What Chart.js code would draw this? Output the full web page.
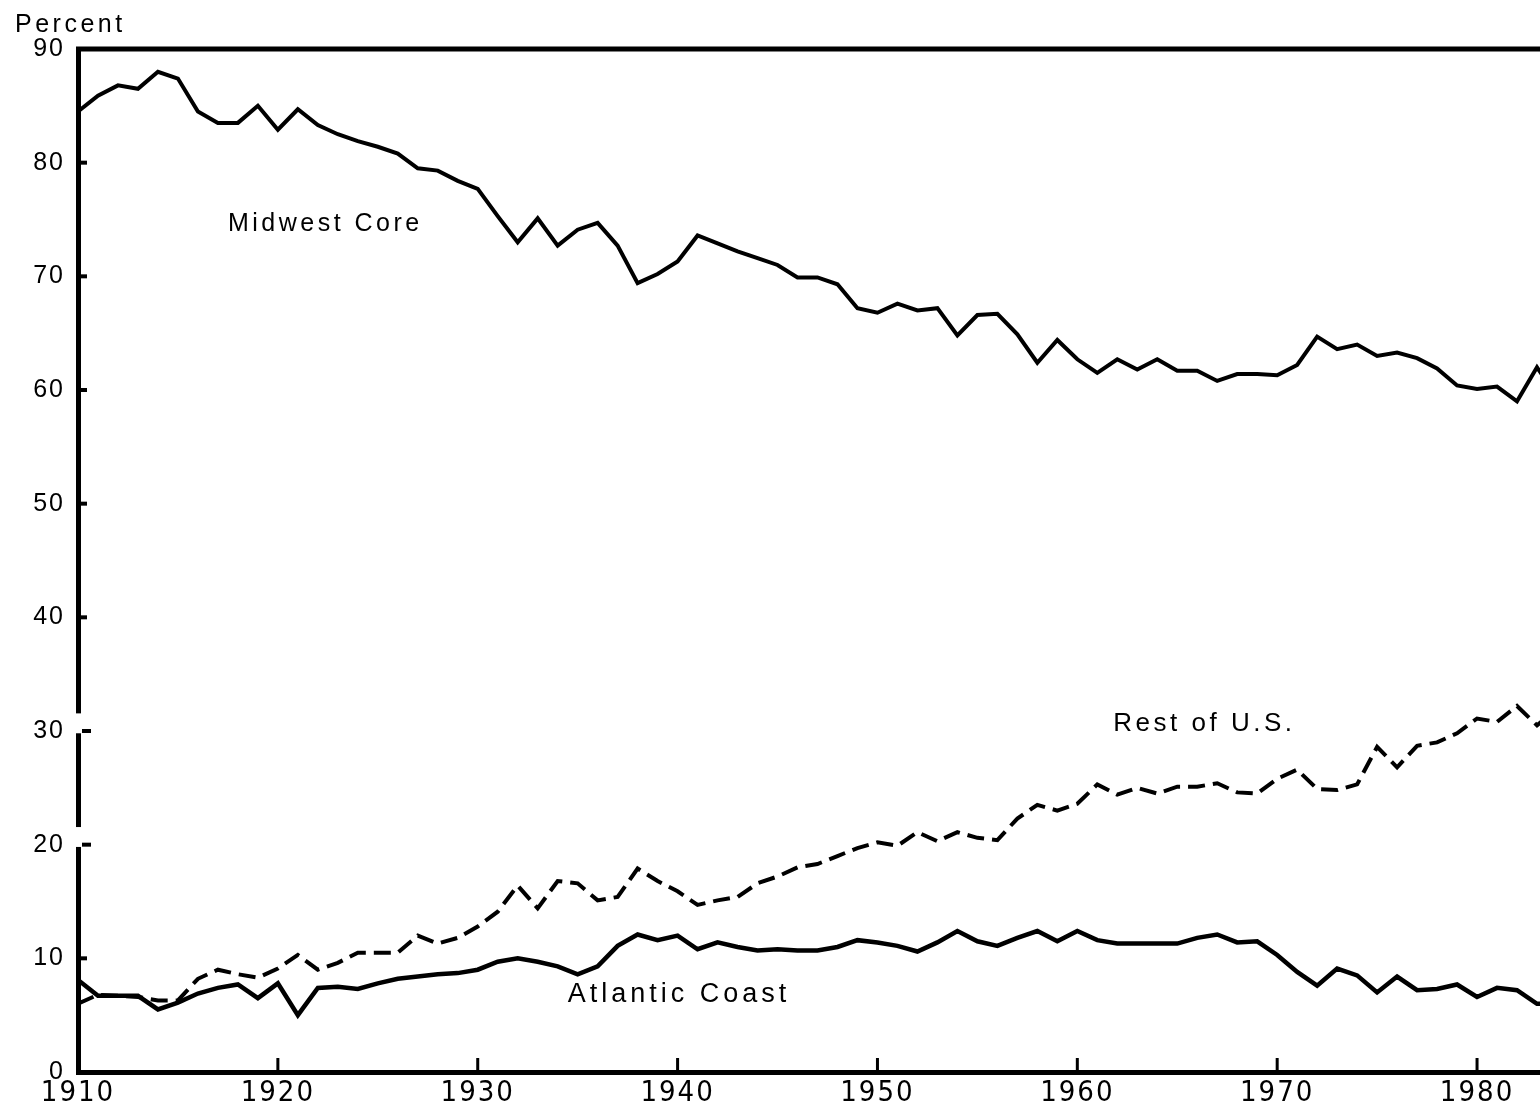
<!DOCTYPE html>
<html>
<head>
<meta charset="utf-8">
<script src="https://cdn.jsdelivr.net/npm/chart.js@4.4.1/dist/chart.umd.min.js"></script>
<style>
  html, body { margin: 0; padding: 0; background: #fff; }
  #wrap { width: 1540px; height: 1107px; position: relative; }
</style>
</head>
<body>
<div id="wrap"><canvas id="lineChart"></canvas></div>
<script>
// values, one per year 1910-1984 (1984 sits just past the cropped edge)
const years = [
  1910, 1911, 1912, 1913, 1914, 1915, 1916, 1917, 1918, 1919,
  1920, 1921, 1922, 1923, 1924, 1925, 1926, 1927, 1928, 1929,
  1930, 1931, 1932, 1933, 1934, 1935, 1936, 1937, 1938, 1939,
  1940, 1941, 1942, 1943, 1944, 1945, 1946, 1947, 1948, 1949,
  1950, 1951, 1952, 1953, 1954, 1955, 1956, 1957, 1958, 1959,
  1960, 1961, 1962, 1963, 1964, 1965, 1966, 1967, 1968, 1969,
  1970, 1971, 1972, 1973, 1974, 1975, 1976, 1977, 1978, 1979,
  1980, 1981, 1982, 1983, 1984
];
const midwestCore = [
  84.5, 85.9, 86.8, 86.5, 88.0, 87.4, 84.5, 83.5, 83.5, 85.0,
  82.9, 84.7, 83.3, 82.5, 81.9, 81.4, 80.8, 79.5, 79.3, 78.4,
  77.7, 75.3, 73.0, 75.1, 72.7, 74.1, 74.7, 72.7, 69.4, 70.2,
  71.3, 73.6, 72.9, 72.2, 71.6, 71.0, 69.9, 69.9, 69.3, 67.2,
  66.8, 67.6, 67.0, 67.2, 64.8, 66.6, 66.7, 64.9, 62.4, 64.4,
  62.7, 61.5, 62.7, 61.8, 62.7, 61.7, 61.7, 60.8, 61.4, 61.4,
  61.3, 62.2, 64.7, 63.6, 64.0, 63.0, 63.3, 62.8, 61.9, 60.4,
  60.1, 60.3, 59.0, 62.0, 59.4
];
const restOfUS = [
  6.0, 6.8, 6.7, 6.6, 6.3, 6.3, 8.2, 9.0, 8.6, 8.3,
  9.1, 10.3, 9.0, 9.6, 10.5, 10.5, 10.5, 12.0, 11.3, 11.8,
  12.8, 14.1, 16.4, 14.4, 16.8, 16.6, 15.1, 15.4, 17.9, 16.8,
  15.9, 14.7, 15.1, 15.4, 16.6, 17.2, 18.0, 18.3, 19.0, 19.7,
  20.2, 19.9, 21.1, 20.3, 21.1, 20.6, 20.4, 22.3, 23.5, 23.0,
  23.6, 25.3, 24.4, 25.0, 24.5, 25.1, 25.1, 25.4, 24.6, 24.5,
  25.8, 26.6, 24.9, 24.8, 25.3, 28.6, 26.8, 28.7, 29.0, 29.8,
  31.1, 30.8, 32.2, 30.5, 32.0
];
const atlanticCoast = [
  8.1, 6.7, 6.7, 6.7, 5.5, 6.1, 6.9, 7.4, 7.7, 6.5,
  7.8, 5.0, 7.4, 7.5, 7.3, 7.8, 8.2, 8.4, 8.6, 8.7,
  9.0, 9.7, 10.0, 9.7, 9.3, 8.6, 9.3, 11.1, 12.1, 11.6,
  12.0, 10.8, 11.4, 11.0, 10.7, 10.8, 10.7, 10.7, 11.0, 11.6,
  11.4, 11.1, 10.6, 11.4, 12.4, 11.5, 11.1, 11.8, 12.4, 11.5,
  12.4, 11.6, 11.3, 11.3, 11.3, 11.3, 11.8, 12.1, 11.4, 11.5,
  10.3, 8.8, 7.6, 9.1, 8.5, 7.0, 8.4, 7.2, 7.3, 7.7,
  6.6, 7.4, 7.2, 6.0, 6.0
];
const xTicks = [1910, 1920, 1930, 1940, 1950, 1960, 1970, 1980];
const yTicks = [0, 10, 20, 30, 40, 50, 60, 70, 80, 90];
const brokenTicks = [20, 30];

const seriesLabels = [
  { text: "Midwest Core", x: 1917.5, y: 74.6, size: 25, spacing: 3.5 },
  { text: "Rest of U.S.", x: 1961.8, y: 30.6, size: 26, spacing: 3.5 },
  { text: "Atlantic Coast", x: 1934.5, y: 6.8, size: 27, spacing: 4 }
];

const sans = "'Liberation Sans', Arial, sans-serif";
const narrow = "'Liberation Sans Narrow', 'DejaVu Sans Condensed', sans-serif";

function pts(vals) {
  return years.map((yr, i) => ({ x: yr, y: vals[i] }));
}

const frame = {
  id: "frame",
  beforeDraw(chart) {
    chart.ctx.letterSpacing = "2px";
  },
  afterDraw(chart) {
    const ctx = chart.ctx;
    const a = chart.chartArea;
    const xs = chart.scales.x, ys = chart.scales.y;
    ctx.save();
    ctx.strokeStyle = "#000";
    ctx.lineCap = "butt";

    // top rule at 90
    ctx.lineWidth = 5;
    ctx.beginPath();
    ctx.moveTo(a.left - 2, a.top);
    ctx.lineTo(a.right, a.top);
    ctx.stroke();

    // axis breaks
    ctx.fillStyle = "#fff";
    brokenTicks.forEach(v => {
      const y1 = ys.getPixelForValue(v + 1.55), y2 = ys.getPixelForValue(v - 0.2);
      ctx.fillRect(a.left - 4, y1, 8, y2 - y1);
    });

    // y tick marks, inside
    ctx.lineWidth = 4;
    yTicks.forEach(v => {
      if (v === 0 || v === 90) return;
      const y = ys.getPixelForValue(v);
      const off = brokenTicks.includes(v) ? 4 : 0;
      ctx.beginPath();
      ctx.moveTo(a.left + off, y);
      ctx.lineTo(a.left + 9 + off, y);
      ctx.stroke();
    });

    // x tick marks, inside
    ctx.lineWidth = 3;
    xTicks.forEach(v => {
      if (v === 1910) return;
      const x = xs.getPixelForValue(v);
      ctx.beginPath();
      ctx.moveTo(x, a.bottom);
      ctx.lineTo(x, a.bottom - 14);
      ctx.stroke();
    });

    // axis title
    ctx.fillStyle = "#000";
    ctx.textBaseline = "alphabetic";
    ctx.textAlign = "left";
    ctx.font = "25px " + sans;
    ctx.letterSpacing = "3.5px";
    ctx.fillText("Percent", 15, a.top - 17);

    // series names
    ctx.textBaseline = "middle";
    seriesLabels.forEach(l => {
      ctx.font = l.size + "px " + sans;
      ctx.letterSpacing = l.spacing + "px";
      ctx.fillText(l.text, xs.getPixelForValue(l.x), ys.getPixelForValue(l.y));
    });
    ctx.restore();
  }
};

const data = {
  datasets: [
    {
      label: "Midwest Core",
      data: pts(midwestCore),
      borderColor: "#000",
      borderWidth: 4,
      pointRadius: 0,
      tension: 0,
      fill: false
    },
    {
      label: "Rest of U.S.",
      data: pts(restOfUS),
      borderColor: "#000",
      borderWidth: 4,
      borderDash: [17, 8],
      pointRadius: 0,
      tension: 0,
      fill: false
    },
    {
      label: "Atlantic Coast",
      data: pts(atlanticCoast),
      borderColor: "#000",
      borderWidth: 4.5,
      pointRadius: 0,
      tension: 0,
      fill: false
    }
  ]
};

const config = {
  type: "line",
  data: data,
  options: {
    animation: false,
    responsive: true,
    maintainAspectRatio: false,
    devicePixelRatio: 1,
    layout: { padding: { top: 49, right: 0, bottom: 0, left: 0 } },
    plugins: {
      legend: { display: false },
      tooltip: { enabled: false }
    },
    scales: {
      x: {
        type: "linear",
        min: 1910,
        max: 1983.15,
        grid: { display: false, drawTicks: false },
        border: { display: true, color: "#000", width: 5 },
        afterBuildTicks: (s) => { s.ticks = xTicks.map(v => ({ value: v })); },
        afterFit: (s) => { s.height = 35; },
        ticks: {
          color: "#000",
          padding: 4,
          maxRotation: 0,
          autoSkip: false,
          font: { family: narrow, size: 29 },
          callback: (v) => String(v)
        }
      },
      y: {
        min: 0,
        max: 90,
        grid: { display: false, drawTicks: false },
        border: { display: true, color: "#000", width: 5 },
        afterBuildTicks: (s) => { s.ticks = yTicks.map(v => ({ value: v })); },
        afterFit: (s) => { s.width = 78; },
        ticks: {
          color: "#000",
          padding: 13,
          font: { family: sans, size: 25 },
          callback: (v) => String(v)
        }
      }
    }
  },
  plugins: [frame]
};

const lineChart = new Chart(document.getElementById("lineChart"), config);
</script>
</body>
</html>
